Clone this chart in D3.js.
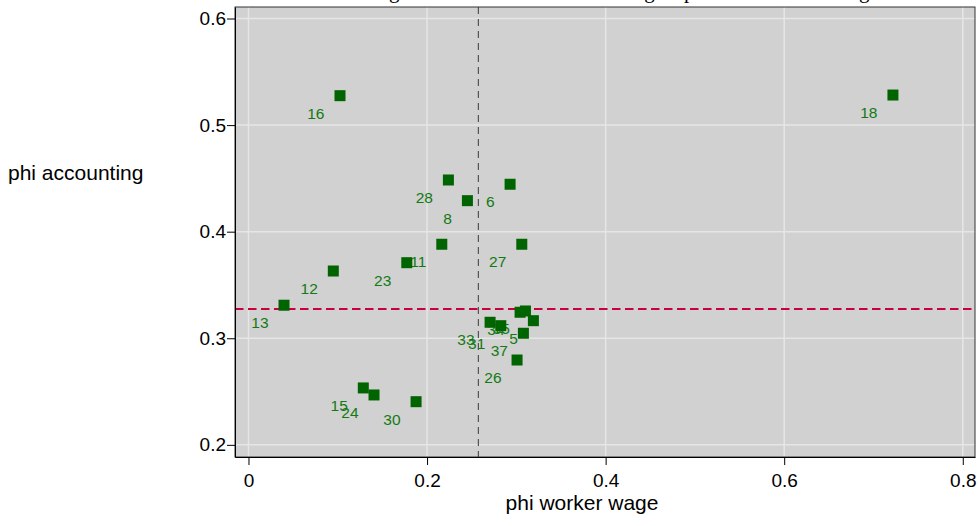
<!DOCTYPE html>
<html>
<head>
<meta charset="utf-8">
<script src="https://cdn.jsdelivr.net/npm/d3@7"></script>
<style>
  html, body { margin: 0; padding: 0; background: #fff; }
  svg { display: block; }
</style>
</head>
<body>
<svg id="chart" width="978" height="526"></svg>
<script>
// ---- data ----
const titleText = "Using OLS estimates for accounting vs phi of the worker wage";
const xTitle = "phi worker wage";
const yTitle = "phi accounting";
const pointLabels = ["16","18","28","6","8","11","27","23","12","13","34","35","5","33","31","37","26","15","24","30"];
const phiWage = [0.1025,0.7218,0.2239,0.2930,0.2452,0.2165,0.3061,0.1773,0.0950,0.0398,0.3042,0.3102,0.3191,0.2706,0.2826,0.3079,0.3008,0.1286,0.1406,0.1877];
const phiAccounting = [0.5276,0.5282,0.4485,0.4445,0.4291,0.3882,0.3882,0.3709,0.3631,0.3310,0.3244,0.3256,0.3165,0.3150,0.3118,0.3047,0.2796,0.2534,0.2468,0.2405];
const xTicks = [0, 0.2, 0.4, 0.6, 0.8];
const xTickLabels = ["0", "0.2", "0.4", "0.6", "0.8"];
const yTicks = [0.2, 0.3, 0.4, 0.5, 0.6];
const yTickLabels = ["0.2", "0.3", "0.4", "0.5", "0.6"];
const meanWage = [0.2575];
const meanAccounting = [0.3275];
const xDomain = [-0.0151, 0.8137];
const yDomain = [0.1886, 0.6108];

// ---- layout ----
const plot = { left: 235, right: 975, top: 7, bottom: 457 };
const svg = d3.select("#chart");
const x = d3.scaleLinear().domain(xDomain).range([plot.left, plot.right]);
const y = d3.scaleLinear().domain(yDomain).range([plot.bottom, plot.top]);
const font = "'Liberation Sans', Arial, Helvetica, sans-serif";

// title (clipped at top edge)
svg.append("text")
  .attr("x", 614).attr("y", -2)
  .attr("text-anchor", "middle")
  .attr("font-family", "'Liberation Serif', 'Times New Roman', serif")
  .attr("font-size", 21)
  .attr("fill", "#000")
  .text(titleText);

// plot background
svg.append("rect")
  .attr("x", plot.left).attr("y", plot.top)
  .attr("width", plot.right - plot.left).attr("height", plot.bottom - plot.top)
  .attr("fill", "#d1d1d1");

// grid
const grid = svg.append("g");
grid.selectAll(".gx").data(xTicks).join("line")
  .attr("x1", d => x(d)).attr("x2", d => x(d))
  .attr("y1", plot.top).attr("y2", plot.bottom)
  .attr("stroke", "#e6e6e6").attr("stroke-width", 1.5);
grid.selectAll(".gy").data(yTicks).join("line")
  .attr("y1", d => y(d)).attr("y2", d => y(d))
  .attr("x1", plot.left).attr("x2", plot.right)
  .attr("stroke", "#e6e6e6").attr("stroke-width", 1.5);

// reference lines
svg.selectAll(".vref").data(meanWage).join("line")
  .attr("x1", d => x(d)).attr("x2", d => x(d))
  .attr("y1", plot.top).attr("y2", plot.bottom)
  .attr("stroke", "#555").attr("stroke-width", 1.2)
  .attr("stroke-dasharray", "7,5");
svg.selectAll(".href").data(meanAccounting).join("line")
  .attr("y1", d => y(d)).attr("y2", d => y(d))
  .attr("x1", plot.left).attr("x2", plot.right)
  .attr("stroke", "#c8003c").attr("stroke-width", 2)
  .attr("stroke-dasharray", "8.5,4.5");

// border
svg.append("rect")
  .attr("x", plot.left).attr("y", plot.top)
  .attr("width", plot.right - plot.left).attr("height", plot.bottom - plot.top)
  .attr("fill", "none").attr("stroke", "#333").attr("stroke-width", 1);

// axes
const xAxis = d3.axisBottom(x).tickValues(xTicks)
  .tickFormat((d, i) => xTickLabels[i]).tickSizeOuter(0).tickSizeInner(8).tickPadding(9);
const gx = svg.append("g").attr("transform", `translate(0,${plot.bottom})`).call(xAxis);
gx.select(".domain").attr("stroke", "#000");
gx.selectAll(".tick line").attr("stroke", "#000");
gx.selectAll(".tick text").attr("font-family", font).attr("font-size", 19).attr("fill", "#000");

const yAxis = d3.axisLeft(y).tickValues(yTicks)
  .tickFormat((d, i) => yTickLabels[i]).tickSizeOuter(0).tickSizeInner(8).tickPadding(1);
const gy = svg.append("g").attr("transform", `translate(${plot.left},0)`).call(yAxis);
gy.select(".domain").attr("stroke", "#000");
gy.selectAll(".tick line").attr("stroke", "#000");
gy.selectAll(".tick text").attr("font-family", font).attr("font-size", 19).attr("fill", "#000");

// axis titles
svg.append("text").attr("x", 582).attr("y", 510)
  .attr("text-anchor", "middle").attr("font-family", font).attr("font-size", 21)
  .attr("fill", "#000").text(xTitle);
svg.append("text").attr("x", 8).attr("y", 180)
  .attr("text-anchor", "start").attr("font-family", font).attr("font-size", 21)
  .attr("fill", "#000").text(yTitle);

// points
const data = pointLabels.map((l, i) => ({ label: l, x: phiWage[i], y: phiAccounting[i] }));
const pts = svg.append("g");
pts.selectAll("text").data(data).join("text")
  .attr("x", d => x(d.x) - 15.5).attr("y", d => y(d.y) + 23)
  .attr("text-anchor", "end")
  .attr("font-family", font).attr("font-size", 15.5)
  .attr("fill", "#137a13")
  .text(d => d.label);
const sz = 11;
pts.selectAll("rect").data(data).join("rect")
  .attr("x", d => x(d.x) - sz / 2).attr("y", d => y(d.y) - sz / 2)
  .attr("width", sz).attr("height", sz)
  .attr("fill", "#006400");
</script>
</body>
</html>
